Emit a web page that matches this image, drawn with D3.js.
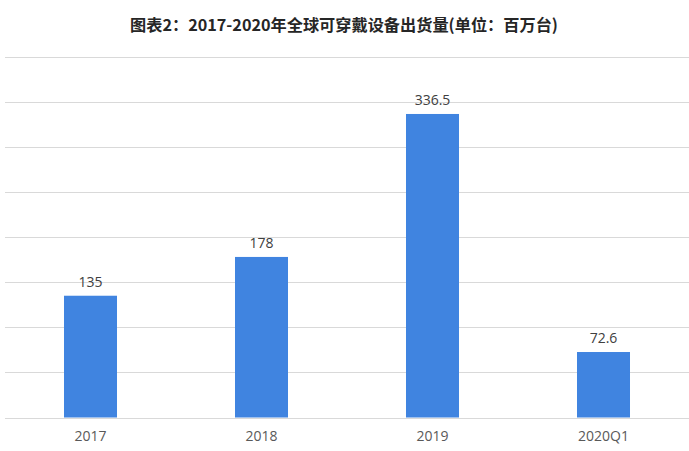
<!DOCTYPE html>
<html><head><meta charset="utf-8">
<script src="https://cdn.jsdelivr.net/npm/d3@7"></script>
<style>body{margin:0;background:#fff}svg{display:block}</style>
</head><body>
<svg id="c" width="689" height="451"></svg>
<script>
const title = "图表2：2017-2020年全球可穿戴设备出货量(单位：百万台)";
const categories = ["2017", "2018", "2019", "2020Q1"];
const values = [135, 178, 336.5, 72.6];
const labels = ["135", "178", "336.5", "72.6"];
const yTicks = [0, 50, 100, 150, 200, 250, 300, 350, 400];

const svg = d3.select("#c");
const W = 689, H = 451;
const m = {left: 5, right: 0, top: 56.7, bottom: 33.5};
const x = d3.scaleBand().domain(categories).range([m.left, W - m.right]).paddingInner(0.69).paddingOuter(0.345);
const y = d3.scaleLinear().domain([0, 400]).range([H - m.bottom, m.top]);

svg.append("text").attr("x", 344).attr("y", 31).attr("text-anchor", "middle")
  .attr("font-family", "'Noto Sans CJK SC', sans-serif").attr("font-weight", "bold")
  .attr("font-size", 16.2).attr("fill", "#262626").text(title);

const g = svg.append("g");
g.selectAll("line.grid").data(yTicks).join("line")
  .attr("x1", m.left).attr("x2", W - m.right)
  .attr("y1", d => Math.round(y(d)) + 0.5).attr("y2", d => Math.round(y(d)) + 0.5)
  .attr("stroke", "#d9d9d9").attr("stroke-width", 1);

g.selectAll("rect.bar").data(values).join("rect")
  .attr("x", (d, i) => x(categories[i])).attr("width", x.bandwidth())
  .attr("y", d => y(d)).attr("height", d => y(0) - y(d))
  .attr("fill", "#4084e0");

g.selectAll("text.val").data(values).join("text")
  .attr("x", (d, i) => x(categories[i]) + x.bandwidth() / 2)
  .attr("y", d => y(d) - 9).attr("text-anchor", "middle")
  .attr("font-family", "'Open Sans', 'DejaVu Sans', sans-serif").attr("font-size", 14)
  .attr("fill", "#404040").text((d, i) => labels[i]);

const xa = svg.append("g").attr("transform", `translate(0,${y(0)})`)
  .call(d3.axisBottom(x).tickSize(0).tickPadding(14));
xa.select(".domain").remove();
xa.selectAll("text").attr("font-family", "'Open Sans', 'DejaVu Sans', sans-serif")
  .attr("font-size", 14).attr("fill", "#595959");
</script>
</body></html>
